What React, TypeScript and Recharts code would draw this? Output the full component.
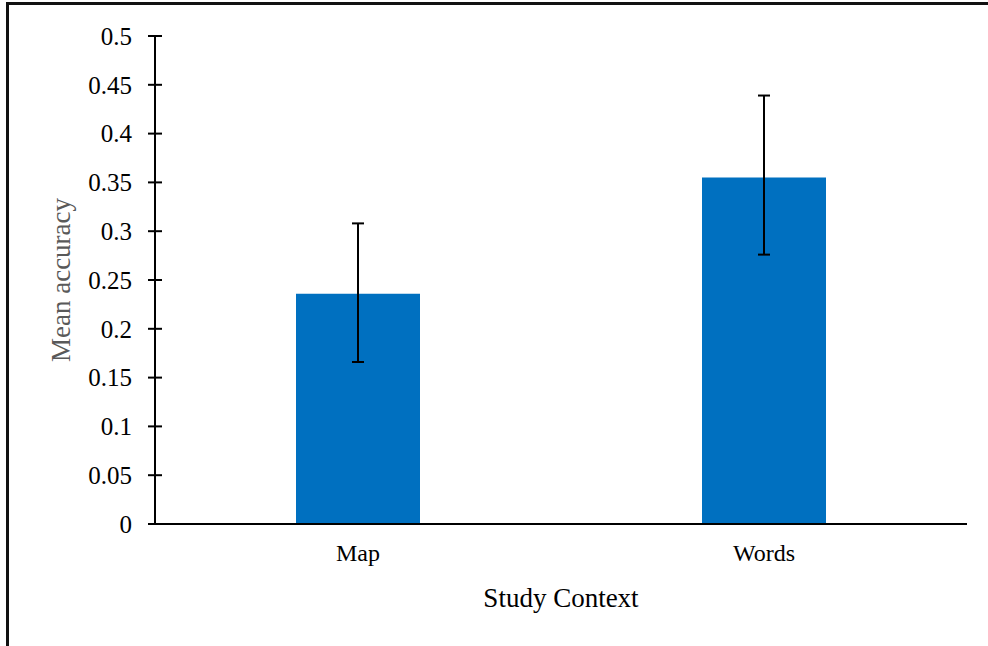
import React from 'react';
import { BarChart, Bar, XAxis, YAxis, ErrorBar } from 'recharts';

const categories = ['Map', 'Words'];
const meanAccuracy = [0.236, 0.355];
const errLow = [0.07, 0.079];
const errHigh = [0.072, 0.084];
const yTicks = [0, 0.05, 0.1, 0.15, 0.2, 0.25, 0.3, 0.35, 0.4, 0.45, 0.5];

const data = categories.map((c, i) => ({
  name: c,
  value: meanAccuracy[i],
  err: [errLow[i], errHigh[i]],
}));

const FONT = '"Liberation Serif", "Times New Roman", serif';
const TICK_SIZE = 7;
const TICK_MARGIN = 16;

const YTick = (props: any) => {
  const { x, y, payload } = props;
  const axisX = x + TICK_SIZE + TICK_MARGIN;
  return (
    <g>
      <line x1={axisX} x2={axisX + TICK_SIZE} y1={y} y2={y} stroke="#000" strokeWidth={2} />
      <text
        x={x}
        y={y}
        dy="0.355em"
        textAnchor="end"
        style={{ fontFamily: FONT, fontSize: 25, fill: '#000' }}
      >
        {String(payload.value)}
      </text>
    </g>
  );
};

const XTick = (props: any) => {
  const { x, y, payload } = props;
  return (
    <text
      x={x}
      y={y}
      dy="0.71em"
      textAnchor="middle"
      style={{ fontFamily: FONT, fontSize: 24, fill: '#000' }}
    >
      {payload.value}
    </text>
  );
};

export default function App() {
  return (
    <div style={{ position: 'fixed', left: 0, top: 0, width: 988, height: 646, background: '#fff', overflow: 'hidden' }}>
      <div
        style={{
          position: 'absolute',
          left: 6,
          top: 2,
          width: 1000,
          height: 700,
          borderLeft: '3px solid #111',
          borderTop: '3px solid #111',
        }}
      />
      <div style={{ position: 'absolute', left: 0, top: 0 }}>
        <BarChart
          width={988}
          height={646}
          data={data}
          margin={{ top: 36, right: 21, left: 45, bottom: 22 }}
          barCategoryGap={0}
        >
          <XAxis
            dataKey="name"
            axisLine={{ stroke: '#000', strokeWidth: 2 }}
            tickLine={false}
            tickSize={0}
            tickMargin={20}
            height={100}
            tick={<XTick />}
            label={{
              value: 'Study Context',
              position: 'insideBottom',
              offset: 17,
              style: { fontFamily: FONT, fontSize: 27, fill: '#000' },
            }}
          />
          <YAxis
            domain={[0, 0.5]}
            ticks={yTicks}
            interval={0}
            width={110}
            axisLine={{ stroke: '#000', strokeWidth: 2 }}
            tickLine={{ stroke: '#000', strokeWidth: 2 }}
            tickSize={TICK_SIZE}
            tickMargin={TICK_MARGIN}
            tick={<YTick />}
            label={{
              value: 'Mean accuracy',
              angle: -90,
              position: 'insideLeft',
              offset: 15,
              style: { fontFamily: FONT, fontSize: 27, fill: '#595959', textAnchor: 'middle' },
            }}
          />
          <Bar dataKey="value" fill="#0070C0" barSize={124} isAnimationActive={false}>
            <ErrorBar dataKey="err" width={6} stroke="#000" strokeWidth={2} isAnimationActive={false} />
          </Bar>
        </BarChart>
      </div>
    </div>
  );
}
